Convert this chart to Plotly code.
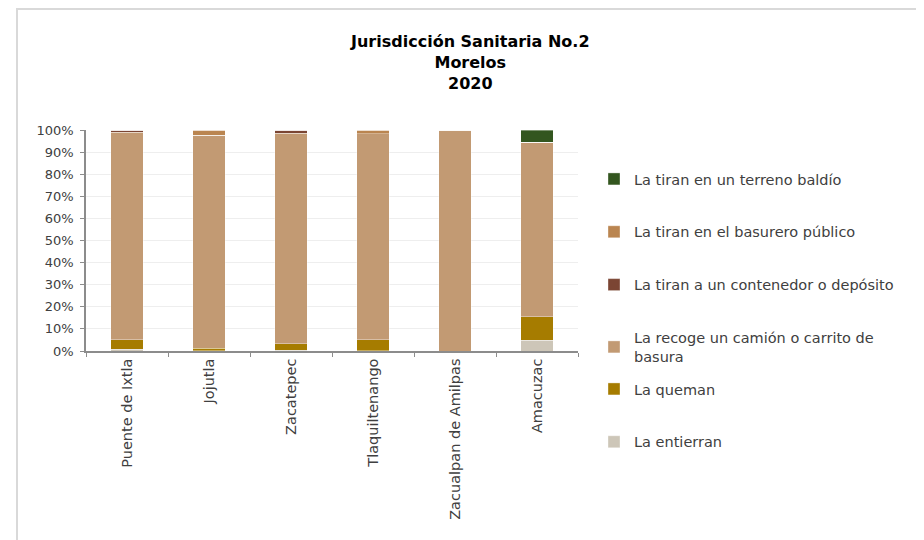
import plotly.graph_objects as go

categories = ["Puente de Ixtla", "Jojutla", "Zacatepec", "Tlaquiltenango",
              "Zacualpan de Amilpas", "Amacuzac"]

series_names = [
    "La entierran",
    "La queman",
    "La recoge un camión o carrito de<br>basura",
    "La tiran a un contenedor o depósito",
    "La tiran en el basurero público",
    "La tiran en un terreno baldío",
]

entierran = [0.7, 0.2, 0.3, 0.2, 0.0, 4.8]
queman = [4.4, 1.1, 2.9, 4.8, 0.0, 10.6]
recoge = [93.9, 96.4, 95.3, 93.2, 100.0, 79.1]
contenedor = [1.0, 0.0, 1.5, 0.0, 0.0, 0.0]
basurero = [0.0, 2.3, 0.0, 1.8, 0.0, 0.0]
baldio = [0.0, 0.0, 0.0, 0.0, 0.0, 5.5]

series_values = [entierran, queman, recoge, contenedor, basurero, baldio]
colors = ["#cdc6b8", "#a67c00", "#c29a73", "#7b4533", "#ba8550", "#33561f"]
legend_ids = ["legend2", "legend2", "legend", "legend", "legend", "legend"]

y_ticks = [0, 10, 20, 30, 40, 50, 60, 70, 80, 90, 100]
y_tick_labels = [f"{v}%" for v in y_ticks]

FONT = "DejaVu Sans"
TXT = "#404040"

n = len(series_names)
fig = go.Figure()
for i, (name, vals, col, lg) in enumerate(zip(series_names, series_values, colors, legend_ids)):
    fig.add_trace(go.Bar(
        x=categories, y=vals, name=name,
        marker=dict(color=col, line=dict(color="rgba(255,255,255,0.6)", width=0.6)),
        width=0.4, legendgroup=f"g{n - i}", legendrank=n - i, legend=lg,
    ))

# page has an 8px body margin: work in window pixels, shift by OFF
OFF = 8
W, H = 924 - OFF, 540 - OFF
L, R, T, B = 86 - OFF, 578 - OFF, 130 - OFF, 351 - OFF
def px(x):
    return (x - OFF - L) / (R - L)
def py(y):
    return (B - (y - OFF)) / (B - T)

legend_common = dict(
    xanchor="left", yanchor="top", traceorder="grouped", tracegroupgap=31,
    font=dict(family=FONT, size=14.5, color=TXT),
    itemwidth=30, bgcolor="rgba(0,0,0,0)", maxheight=520,
)

fig.update_layout(
    width=W, height=H,
    margin=dict(l=L, r=W - R, t=T, b=H - B, autoexpand=False),
    barmode="stack", bargap=0.6,
    plot_bgcolor="white", paper_bgcolor="white",
    font=dict(family=FONT, size=13, color=TXT),
    showlegend=True,
    legend=dict(x=px(594), y=py(163), **legend_common),
    legend2=dict(x=px(594), y=py(373), **legend_common),
    xaxis=dict(
        type="category", tickangle=-90, showgrid=False,
        showline=True, linecolor="#8c8c8c", linewidth=1.5,
        ticks="outside", tickson="boundaries", ticklen=4, tickcolor="#8c8c8c",
        tickfont=dict(family=FONT, size=14.5, color=TXT),
    ),
    yaxis=dict(
        range=[0, 100], tickvals=y_ticks, ticktext=y_tick_labels,
        showgrid=True, gridcolor="#eeeeee", gridwidth=1,
        showline=True, linecolor="#8c8c8c", linewidth=1.5,
        ticks="outside", ticklen=4, tickcolor="#8c8c8c", ticklabelstandoff=4,
        tickfont=dict(family=FONT, size=13, color=TXT),
        zeroline=False,
    ),
    annotations=[dict(
        text="<b>Jurisdicción Sanitaria No.2<br>Morelos<br>2020</b>",
        x=px(470), y=py(62), xref="paper", yref="paper",
        xanchor="center", yanchor="middle", showarrow=False,
        font=dict(family=FONT, size=16, color="#000000"),
    )],
    shapes=[dict(
        type="rect", xref="paper", yref="paper",
        x0=px(17), x1=px(922), y0=py(560), y1=py(9),
        line=dict(color="#d9d9d9", width=2), fillcolor="rgba(0,0,0,0)",
        layer="below",
    )],
)

fig.write_html("out.html")
